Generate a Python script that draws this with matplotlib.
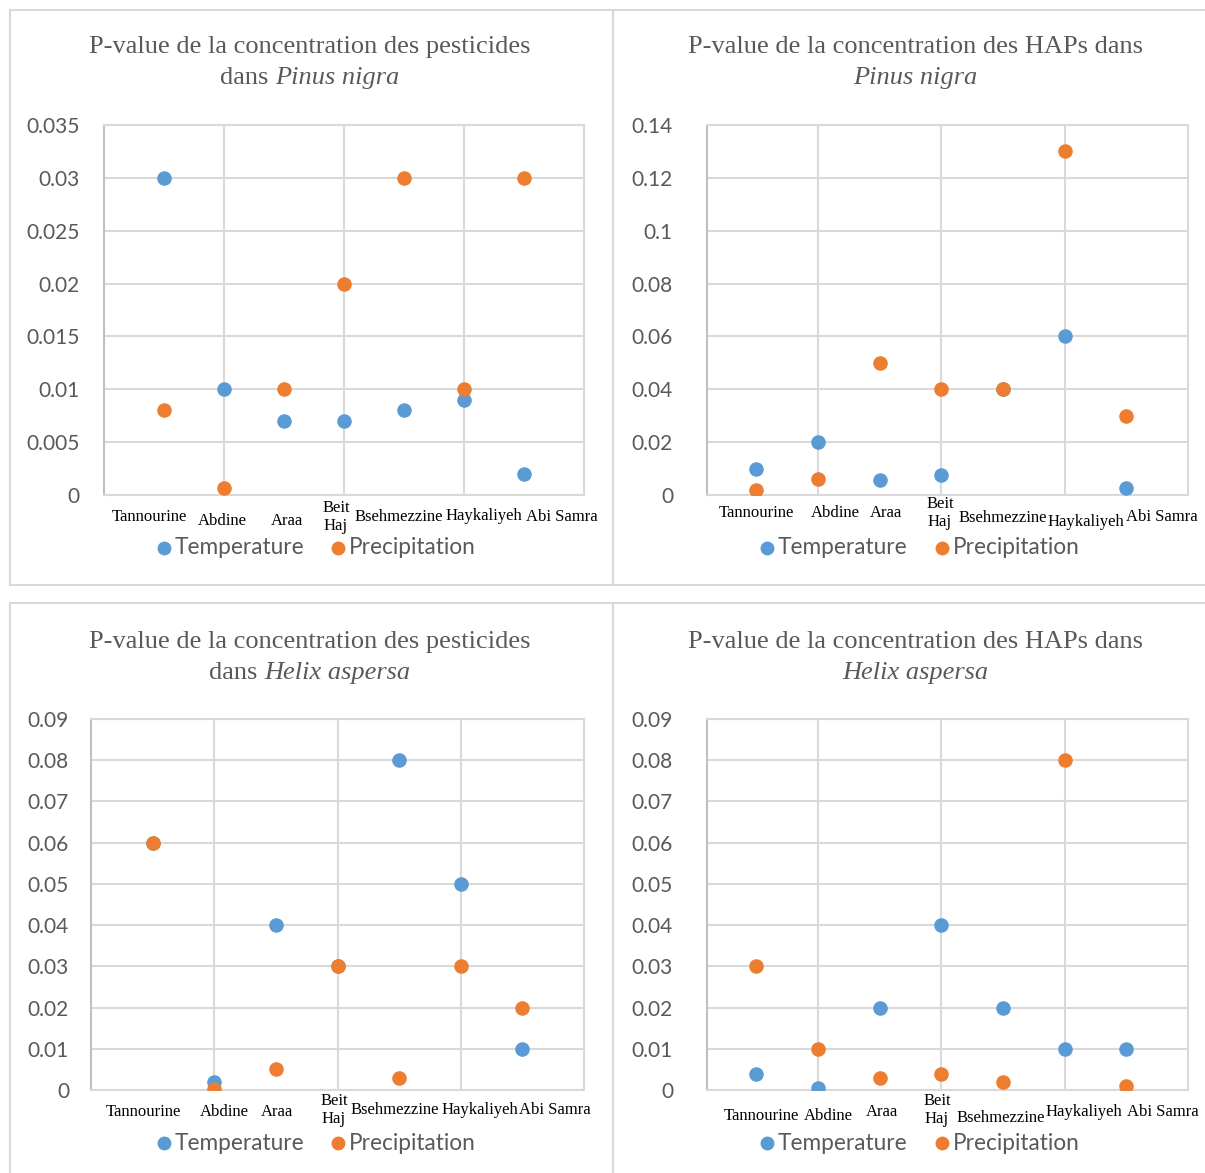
"""P-value scatter charts: pesticides and HAPs in Pinus nigra and Helix aspersa."""

import matplotlib.pyplot as plt
from matplotlib.lines import Line2D
from matplotlib.patches import Rectangle

W, H = 1205, 1173

sites = ["Tannourine", "Abdine", "Araa", "Beit\nHaj", "Bsehmezzine",
         "Haykaliyeh", "Abi Samra"]
site_x = [1, 2, 3, 4, 5, 6, 7]

# Pesticides, Pinus nigra
pest_pinus_temp = [0.03, 0.01, 0.007, 0.007, 0.008, 0.009, 0.002]
pest_pinus_prec = [0.008, 0.0007, 0.01, 0.02, 0.03, 0.01, 0.03]
# HAPs, Pinus nigra
hap_pinus_temp = [0.01, 0.02, 0.0057, 0.0076, 0.04, 0.06, 0.0026]
hap_pinus_prec = [0.0019, 0.006, 0.05, 0.04, 0.04, 0.13, 0.03]
# Pesticides, Helix aspersa
pest_helix_temp = [0.06, 0.002, 0.04, 0.03, 0.08, 0.05, 0.01]
pest_helix_prec = [0.06, 0.0002, 0.005, 0.03, 0.003, 0.03, 0.02]
# HAPs, Helix aspersa
hap_helix_temp = [0.0039, 0.0005, 0.02, 0.04, 0.02, 0.01, 0.01]
hap_helix_prec = [0.03, 0.01, 0.003, 0.004, 0.002, 0.08, 0.001]

titles = [
    ("P-value de la concentration des pesticides", "dans ", "Pinus nigra"),
    ("P-value de la concentration des HAPs dans", "", "Pinus nigra"),
    ("P-value de la concentration des pesticides", "dans ", "Helix aspersa"),
    ("P-value de la concentration des HAPs dans", "", "Helix aspersa"),
]
y_max = [0.035, 0.14, 0.09, 0.09]
y_step = [0.005, 0.02, 0.01, 0.01]

BLUE = "#5B9BD5"
ORANGE = "#ED7D31"
GRID = "#d9d9d9"
TXT = "#595959"
SERIF = "Liberation Serif"
SANS = "Lato"

# layout in pixels: panel box, plot area (left, top, right, bottom), x-limits
panels = [
    dict(box=(10, 10, 613, 585), area=(104, 125, 584, 495), xlim=(0, 8),
         tick_r=80, title_y=47, cx=310, leg_y=548, leg_x=(164, 338),
         labels=[(149, 517), (222, 521), (287, 521), (336, 517), (399, 517),
                 (484, 516), (562, 517)]),
    dict(box=(613, 10, 1215, 585), area=(707, 125, 1188, 495), xlim=(0.2, 8),
         tick_r=673, title_y=47, cx=915, leg_y=548, leg_x=(767, 942),
         labels=[(756, 513), (835, 513), (886, 513), (940, 513), (1003, 518),
                 (1086, 522), (1162, 517)]),
    dict(box=(10, 603, 613, 1180), area=(91, 719, 584, 1090), xlim=(0, 8),
         tick_r=69, title_y=642, cx=310, leg_y=1143, leg_x=(164, 338),
         labels=[(143, 1112), (224, 1112), (277, 1112), (334, 1110),
                 (395, 1110), (480, 1110), (555, 1110)]),
    dict(box=(613, 603, 1215, 1180), area=(707, 719, 1188, 1090),
         xlim=(0.2, 8), tick_r=673, title_y=642, cx=915, leg_y=1143,
         leg_x=(767, 942),
         labels=[(761, 1116), (828, 1116), (882, 1112), (937, 1110),
                 (1001, 1118), (1084, 1112), (1163, 1112)]),
]
series = [
    (pest_pinus_temp, pest_pinus_prec),
    (hap_pinus_temp, hap_pinus_prec),
    (pest_helix_temp, pest_helix_prec),
    (hap_helix_temp, hap_helix_prec),
]

fig = plt.figure(figsize=(W / 100, H / 100), dpi=100)
renderer = fig.canvas.get_renderer()


def fx(x):
    return x / W


def fy(y):
    return 1 - y / H


for i, p in enumerate(panels):
    x0, y0, x1, y1 = p["box"]
    fig.patches.append(Rectangle((fx(x0), fy(y1)), fx(x1 - x0), (y1 - y0) / H,
                                 transform=fig.transFigure, fill=False,
                                 edgecolor=GRID, linewidth=1.5))
    l, t, r, b = p["area"]
    ax = fig.add_axes([fx(l), fy(b), fx(r - l), (b - t) / H])
    temp, prec = series[i]
    ax.scatter(site_x, temp, s=110, color=BLUE, zorder=3, linewidths=0)
    ax.scatter(site_x, prec, s=110, color=ORANGE, zorder=4, linewidths=0)
    ax.set_xlim(*p["xlim"])
    ax.set_ylim(0, y_max[i])
    n = round(y_max[i] / y_step[i])
    ticks = [k * y_step[i] for k in range(n + 1)]
    ax.set_yticks(ticks)
    ax.set_yticklabels([f"{round(v, 6):g}" for v in ticks],
                       fontfamily=SANS, fontsize=15, color=TXT)
    ax.set_xticks([2, 4, 6])
    ax.set_xticklabels([])
    ax.tick_params(length=0)
    ax.tick_params(axis="y", pad=(l - p["tick_r"]) * 0.72)
    ax.grid(True, color=GRID, linewidth=1.5)
    ax.set_axisbelow(True)
    for side in ["top", "right", "bottom"]:
        ax.spines[side].set_color(GRID)
        ax.spines[side].set_linewidth(1.5)
    ax.spines["left"].set_color("#bfbfbf")
    ax.spines["left"].set_linewidth(1.5)

    # category labels
    for name, (lx, ly) in zip(sites, p["labels"]):
        fig.text(fx(lx), fy(ly), name, ha="center", va="center",
                 fontfamily=SERIF, fontsize=12, color="black",
                 linespacing=1.15)

    # title
    line1, pre, ital = titles[i]
    fig.text(fx(p["cx"]), fy(p["title_y"]), line1, ha="center", va="center",
             fontfamily=SERIF, fontsize=19, color=TXT)
    y2 = fy(p["title_y"] + 31)
    parts = []
    if pre:
        parts.append(fig.text(0, y2, pre, ha="left", va="center",
                              fontfamily=SERIF, fontsize=19, color=TXT))
    parts.append(fig.text(0, y2, ital, ha="left", va="center",
                          fontfamily=SERIF, fontsize=19, color=TXT,
                          style="italic"))
    widths = [tx.get_window_extent(renderer=renderer).width for tx in parts]
    xs = p["cx"] - sum(widths) / 2
    for tx, w in zip(parts, widths):
        tx.set_x(xs / W)
        xs += w

    # legend
    for (mx, col, lab) in zip(p["leg_x"], (BLUE, ORANGE),
                              ("Temperature", "Precipitation")):
        fig.add_artist(Line2D([fx(mx)], [fy(p["leg_y"])], marker="o",
                              markersize=10, color=col, markeredgewidth=0,
                              linestyle="", transform=fig.transFigure))
        fig.text(fx(mx + 11), fy(p["leg_y"]), lab, ha="left", va="center",
                 fontfamily=SANS, fontsize=16.3, color=TXT)

fig.savefig("out.png", dpi=100)
